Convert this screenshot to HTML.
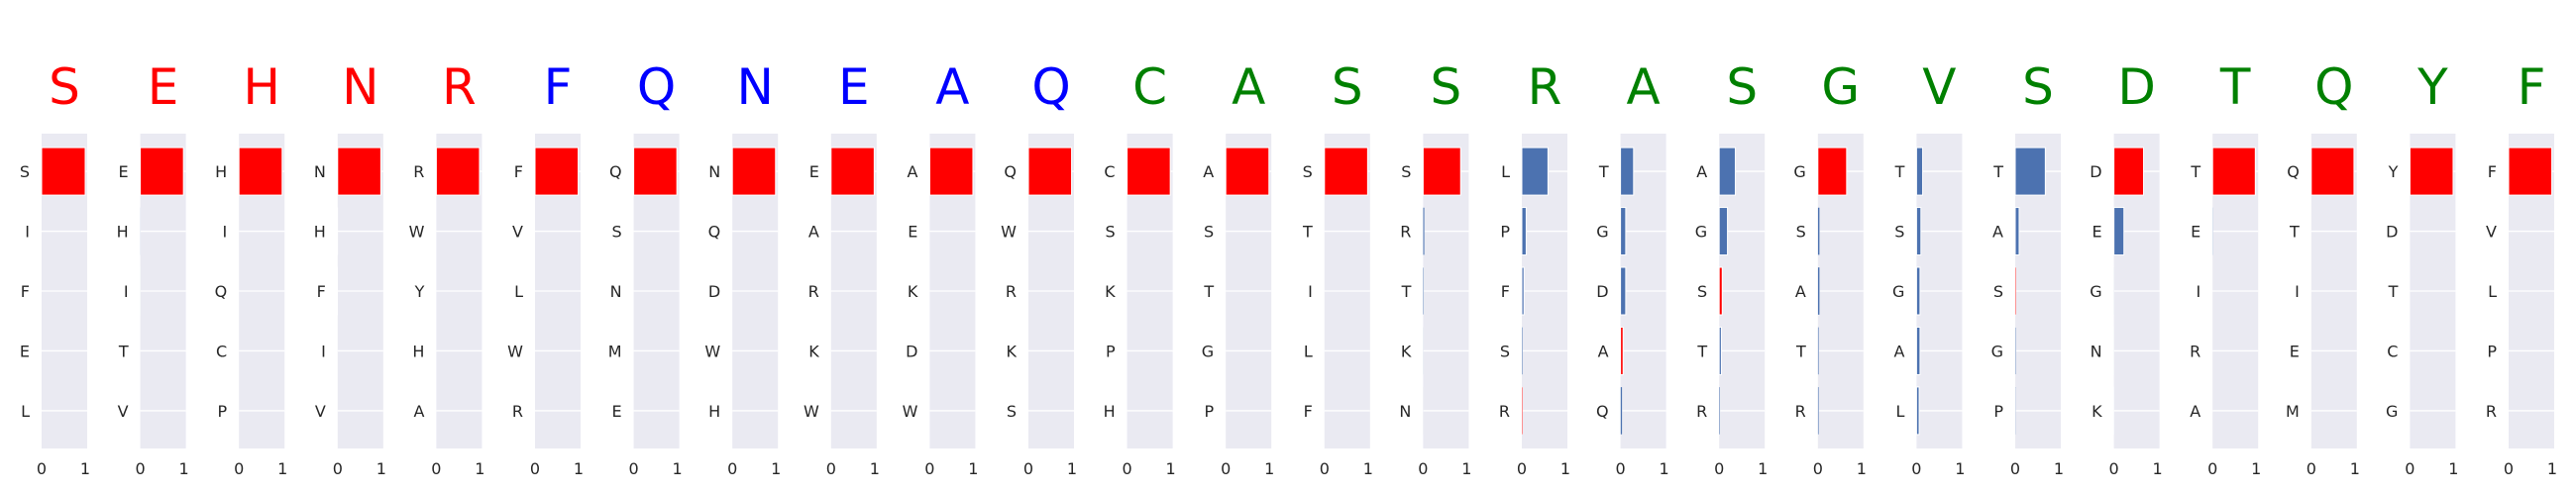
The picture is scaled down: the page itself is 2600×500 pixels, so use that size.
<!DOCTYPE html>
<html><head><meta charset="utf-8"><style>
html,body{margin:0;padding:0;background:#fff;}
svg{display:block;font-family:"DejaVu Sans","Liberation Sans",sans-serif;}
</style></head><body>
<svg id="chart" width="2600" height="500" viewBox="0 0 2600 500" xmlns="http://www.w3.org/2000/svg"></svg>
<script>
const titles = ["S","E","H","N","R","F","Q","N","E","A","Q","C","A","S","S","R","A","S","G","V","S","D","T","Q","Y","F"];
const titleColors = ["#ff0000","#ff0000","#ff0000","#ff0000","#ff0000","#0000ff","#0000ff","#0000ff","#0000ff","#0000ff","#0000ff","#008000","#008000","#008000","#008000","#008000","#008000","#008000","#008000","#008000","#008000","#008000","#008000","#008000","#008000","#008000"];
const labels = [
 ["S","I","F","E","L"],["E","H","I","T","V"],["H","I","Q","C","P"],["N","H","F","I","V"],["R","W","Y","H","A"],
 ["F","V","L","W","R"],["Q","S","N","M","E"],["N","Q","D","W","H"],["E","A","R","K","W"],["A","E","K","D","W"],
 ["Q","W","R","K","S"],["C","S","K","P","H"],["A","S","T","G","P"],["S","T","I","L","F"],["S","R","T","K","N"],
 ["L","P","F","S","R"],["T","G","D","A","Q"],["A","G","S","T","R"],["G","S","A","T","R"],["T","S","G","A","L"],
 ["T","A","S","G","P"],["D","E","G","N","K"],["T","E","I","R","A"],["Q","T","I","E","M"],["Y","D","T","C","G"],["F","V","L","P","R"]
];
const values = [
 [1.0,0,0,0,0],[0.99,0.005,0.002,0,0],[0.99,0,0,0,0],[0.99,0.003,0.002,0,0],[0.99,0,0,0,0],
 [0.99,0,0,0,0],[0.99,0,0,0,0],[0.99,0,0,0,0],[0.99,0,0,0,0],[0.99,0,0,0,0],
 [0.99,0,0,0,0],[0.99,0,0,0,0],[0.99,0,0,0,0],[0.99,0,0,0,0],[0.86,0.03,0.015,0.003,0.002],
 [0.6,0.1,0.05,0.02,0.015],[0.3,0.12,0.12,0.06,0.04],[0.37,0.19,0.07,0.05,0.02],[0.66,0.04,0.04,0.02,0.02],[0.14,0.1,0.08,0.08,0.06],
 [0.69,0.09,0.015,0.015,0.01],[0.68,0.23,0.003,0.002,0.001],[0.98,0.01,0,0,0],[0.98,0,0,0,0],[0.99,0,0,0,0],[0.99,0,0,0,0]
];
const xTicks = [0,1];

const svg = document.getElementById('chart');
const NS = "http://www.w3.org/2000/svg";
const panelX0 = 42, panelStep = 99.6, axW = 46, axTop = 135, axBot = 453;
const xMax = axW/44;
const rowStep = (axBot-axTop)/5.26;
function xScale(p, v){ return panelX0 + p*panelStep + v/xMax*axW; }
function yScale(r){ return axTop + (r+0.63)*rowStep; }
function mk(tag, attrs, parent){ const e=document.createElementNS(NS,tag); for(const k in attrs) e.setAttribute(k,attrs[k]); (parent||svg).appendChild(e); return e; }

titles.forEach((t,p)=>{
  const g = mk('g',{});
  
  
  const left = xScale(p,0);
  const bg = mk('rect',{x:left,y:axTop,width:axW,height:axBot-axTop,fill:'#eaeaf2'},g);
  
  
  for(let r=0;r<5;r++){
    const gl = mk('line',{x1:left,x2:left+axW,y1:yScale(r),y2:yScale(r),stroke:'#fff','stroke-width':1.3},g);
    
    
  }
  const tt = mk('text',{x:left+axW/2,y:105,'text-anchor':'middle','font-size':50,fill:titleColors[p]},g);
  tt.textContent = t;
  
  
  labels[p].forEach((lab,r)=>{
    const v = values[p][r];
    const w = Math.max(xScale(p,v)-left, 0);
    const col = lab===t ? '#ff0000' : '#4c72b0';
    const b = mk('rect',{x:left,y:yScale(r)-24,width:w,height:48,fill:col,stroke:'#fff','stroke-width':w>2?1:0.3},g);
    
    
    const yl = mk('text',{x:left-12,y:yScale(r)+6,'text-anchor':'end','font-size':16,fill:'#262626'},g);
    yl.textContent = lab;
    
    
  });
  xTicks.forEach(tv=>{
    const xl = mk('text',{x:xScale(p,tv),y:479,'text-anchor':'middle','font-size':16,fill:'#262626'},g);
    xl.textContent = String(tv);
    
    
  });
});
</script>
</body></html>
